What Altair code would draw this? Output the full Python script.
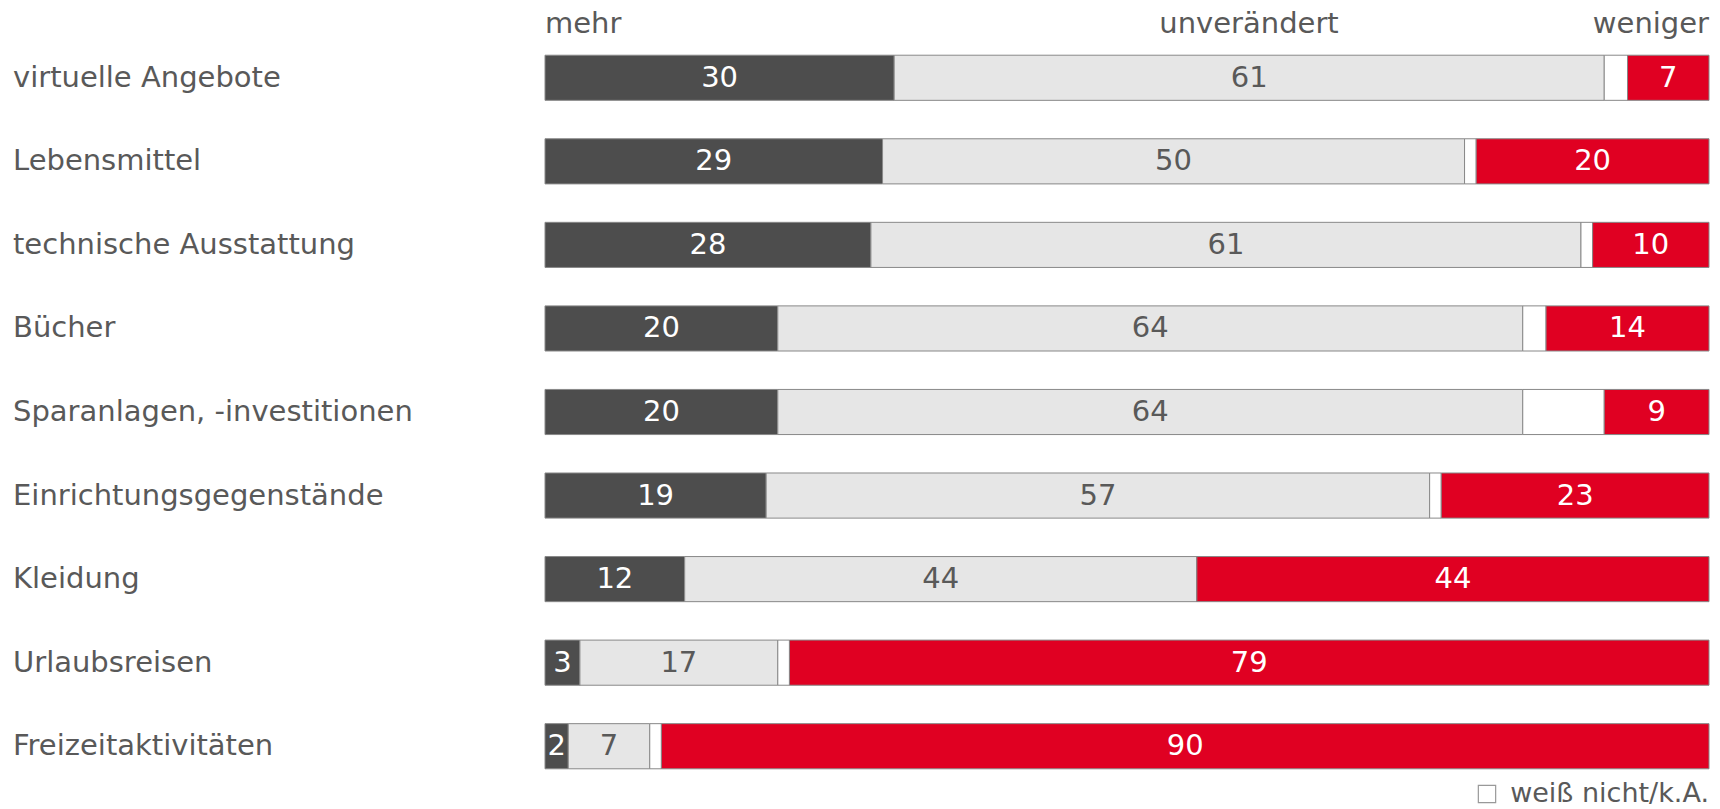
import altair as alt
import pandas as pd

categories = ["virtuelle Angebote", "Lebensmittel", "technische Ausstattung", "Bücher",
              "Sparanlagen, -investitionen", "Einrichtungsgegenstände", "Kleidung",
              "Urlaubsreisen", "Freizeitaktivitäten"]
mehr = [30, 29, 28, 20, 20, 19, 12, 3, 2]
unveraendert = [61, 50, 61, 64, 64, 57, 44, 17, 7]
weiss_nicht = [2, 1, 1, 2, 7, 1, 0, 1, 1]
weniger = [7, 20, 10, 14, 9, 23, 44, 79, 90]

segments = ["mehr", "unverändert", "weiß nicht/k.A.", "weniger"]
seg_colors = ["#4d4d4d", "#e6e6e6", "#ffffff", "#e00022"]
label_colors = {"mehr": "#ffffff", "unverändert": "#595959", "weniger": "#ffffff"}

rows = []
for i, c in enumerate(categories):
    for k, (s, vals) in enumerate(zip(segments, [mehr, unveraendert, weiss_nicht, weniger])):
        rows.append({"cat": c, "seg": s, "value": vals[i], "order": k,
                     "tcolor": label_colors.get(s, "#595959")})
df = pd.DataFrame(rows)
cat_df = pd.DataFrame({"cat": categories})

FONT = "DejaVu Sans"
TXT = "#595959"
FS = 29

yscale = alt.Scale(domain=categories, paddingInner=0.46, paddingOuter=0.23)
xscale = alt.Scale(domain=[0, 100], nice=False, zero=True)

bars = alt.Chart(df).mark_bar(stroke="#888888", strokeWidth=1).encode(
    y=alt.Y("cat:N", sort=categories, scale=yscale, axis=None),
    x=alt.X("value:Q", stack="zero", scale=xscale, axis=None),
    color=alt.Color("seg:N", scale=alt.Scale(domain=segments, range=seg_colors), legend=None),
    order=alt.Order("order:Q"),
)

labels = alt.Chart(df).transform_stack(
    stack="value", groupby=["cat"], sort=[alt.SortField("order")], as_=["x0", "x1"]
).transform_calculate(
    mid="(datum.x0 + datum.x1) / 2"
).transform_filter(
    "datum.seg != 'weiß nicht/k.A.'"
).mark_text(font=FONT, fontSize=FS, baseline="middle", align="center").encode(
    y=alt.Y("cat:N", sort=categories, scale=yscale, axis=None),
    x=alt.X("mid:Q", scale=xscale, axis=None),
    text=alt.Text("value:Q"),
    color=alt.Color("tcolor:N", scale=None),
)

cat_labels = alt.Chart(cat_df).mark_text(
    font=FONT, fontSize=FS, align="left", baseline="middle", color=TXT
).encode(
    y=alt.Y("cat:N", sort=categories, scale=yscale, axis=None),
    x=alt.value(-532),
    text="cat:N",
)

def header(text, xpos, align):
    return alt.Chart(pd.DataFrame({"t": [text]})).mark_text(
        font=FONT, fontSize=FS, align=align, baseline="middle", color=TXT
    ).encode(x=alt.value(xpos), y=alt.value(-12), text="t:N")

h1 = header("mehr", 0, "left")
h2 = header("unverändert", 704, "center")
h3 = header("weniger", 1164, "right")

legend_box = alt.Chart(pd.DataFrame({"t": ["box"]})).mark_square(
    size=300, fill="#ffffff", stroke="#999999", strokeWidth=1.2, opacity=1
).encode(x=alt.value(942), y=alt.value(758))

legend_text = alt.Chart(pd.DataFrame({"t": ["weiß nicht/k.A."]})).mark_text(
    font=FONT, fontSize=27, align="right", baseline="middle", color=TXT
).encode(x=alt.value(1164), y=alt.value(758), text="t:N")

chart = alt.layer(bars, labels, cat_labels, h1, h2, h3, legend_box, legend_text).properties(
    width=1164, height=752,
    padding={"left": 545, "top": 36, "right": 11, "bottom": 21},
    autosize=alt.AutoSizeParams(type="none"),
    background="#ffffff",
).configure(font=FONT).configure_view(strokeWidth=0, stroke="transparent")

chart.save("out.html", embed_options={"renderer": "svg", "actions": False})
